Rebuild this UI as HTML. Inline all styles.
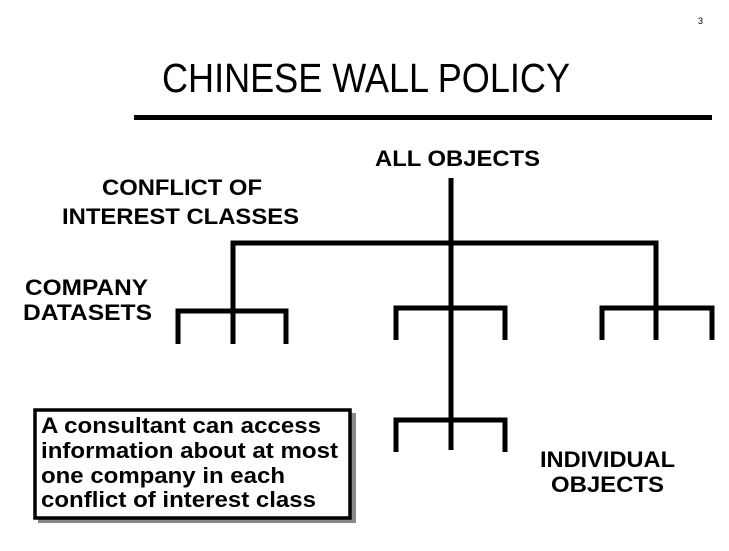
<!DOCTYPE html>
<html><head><style>html,body{margin:0;padding:0;background:#fff}svg{display:block}</style></head>
<body>
<svg width="729" height="551" viewBox="0 0 729 551" xmlns="http://www.w3.org/2000/svg" font-family="Liberation Sans, Arial, sans-serif">
<rect width="729" height="551" fill="#fff"/>
<text x="698" y="24" font-size="9">3</text>
<text x="162" y="92" font-size="41" textLength="408" lengthAdjust="spacingAndGlyphs">CHINESE WALL POLICY</text>
<rect x="134" y="115" width="578" height="5" fill="#000"/>
<g font-weight="bold" font-size="22">
<text x="375" y="166" textLength="165" lengthAdjust="spacingAndGlyphs">ALL OBJECTS</text>
<text x="102" y="195" textLength="160" lengthAdjust="spacingAndGlyphs">CONFLICT OF</text>
<text x="62" y="224" textLength="237" lengthAdjust="spacingAndGlyphs">INTEREST CLASSES</text>
<text x="25" y="295" textLength="123" lengthAdjust="spacingAndGlyphs">COMPANY</text>
<text x="23" y="320" textLength="129" lengthAdjust="spacingAndGlyphs">DATASETS</text>
<text x="540" y="467" textLength="135" lengthAdjust="spacingAndGlyphs">INDIVIDUAL</text>
<text x="551" y="492" textLength="113" lengthAdjust="spacingAndGlyphs">OBJECTS</text>
</g>
<g stroke="#000" stroke-width="5" fill="none">
<line x1="451" y1="178" x2="451" y2="422"/>
<polyline points="233,313 233,243 656,243 656,310"/>
<polyline points="178,344 178,311 286,311 286,344"/>
<line x1="233" y1="311" x2="233" y2="344"/>
<polyline points="396,340 396,308 505,308 505,340"/>
<line x1="451" y1="308" x2="451" y2="340"/>
<polyline points="602,340 602,308 712,308 712,340"/>
<line x1="656" y1="308" x2="656" y2="340"/>
<polyline points="396,452 396,420 505,420 505,452"/>
<line x1="451" y1="420" x2="451" y2="450"/>
</g>
<rect x="38" y="413" width="318" height="110" fill="#888"/>
<rect x="35" y="410" width="315" height="108" fill="#fff" stroke="#000" stroke-width="3.5"/>
<g font-weight="bold" font-size="22">
<text x="41" y="433" textLength="280" lengthAdjust="spacingAndGlyphs">A consultant can access</text>
<text x="41" y="458" textLength="297" lengthAdjust="spacingAndGlyphs">information about at most</text>
<text x="41" y="483" textLength="244" lengthAdjust="spacingAndGlyphs">one company in each</text>
<text x="41" y="507" textLength="275" lengthAdjust="spacingAndGlyphs">conflict of interest class</text>
</g>
</svg>
</body></html>
